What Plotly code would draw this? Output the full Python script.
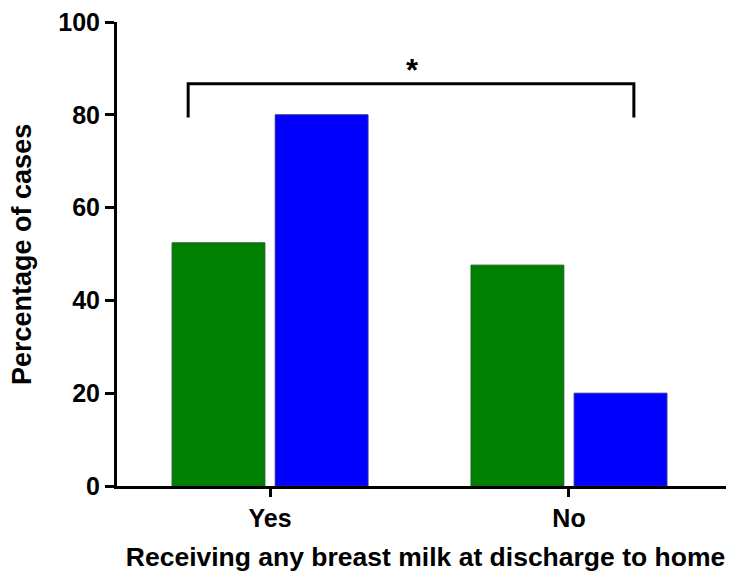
import plotly.graph_objects as go

categories = ["Yes", "No"]
group_a = [52.4, 47.6]   # green
group_b = [80.0, 20.0]   # blue
y_ticks = [0, 20, 40, 60, 80, 100]

FONT = "Liberation Sans, Arial, sans-serif"

fig = go.Figure()
fig.add_trace(go.Bar(x=categories, y=group_a, marker=dict(color="#008000", line=dict(color="#1e5e1e", width=1)), name="A"))
fig.add_trace(go.Bar(x=categories, y=group_b, marker=dict(color="#0000ff", line=dict(color="#2a2a9a", width=1)), name="B"))

# significance bracket
bx0, bx1, by_low, by_high = -0.274, 1.217, 79.4, 86.7
fig.add_shape(type="path",
              path=f"M {bx0} {by_low} L {bx0} {by_high} L {bx1} {by_high} L {bx1} {by_low}",
              xref="x", yref="y", line=dict(color="black", width=3))
fig.add_annotation(x=0.475, y=89.6, xref="x", yref="y", text="<b>*</b>", showarrow=False,
                   font=dict(family=FONT, size=31, color="black"))

# y-axis title as rotated annotation
fig.add_annotation(x=-0.154, y=0.5, xref="paper", yref="paper", text="<b>Percentage of cases</b>",
                   textangle=-90, showarrow=False, xanchor="center", yanchor="middle",
                   font=dict(family=FONT, size=27, color="black"))

fig.update_layout(
    width=726, height=567,
    margin=dict(l=109, r=0, t=12, b=89),
    plot_bgcolor="white", paper_bgcolor="white",
    barmode="group", bargap=0.31, bargroupgap=0.1,
    showlegend=False,
    font=dict(family=FONT, color="black"),
)
fig.update_xaxes(
    type="category", range=[-0.512, 1.552],
    showline=True, linecolor="black", linewidth=3,
    ticks="outside", ticklen=8, tickwidth=3, tickcolor="black",
    tickfont=dict(family=FONT, size=25, color="black"),
    ticktext=[f"<b>{c}</b>" for c in categories], tickvals=categories,
    title=dict(text="<b>Receiving any breast milk at discharge to home</b>",
               font=dict(family=FONT, size=26.5, color="black"), standoff=17),
    showgrid=False, zeroline=False,
)
fig.update_yaxes(
    range=[0, 100], tickvals=y_ticks, ticktext=[f"<b>{t}</b>" for t in y_ticks],
    showline=True, linecolor="black", linewidth=3,
    ticks="outside", ticklen=9, tickwidth=3, tickcolor="black",
    tickfont=dict(family=FONT, size=25, color="black"),
    ticklabeloverflow="allow",
    showgrid=False, zeroline=False,
)

fig.write_html("out.html")
